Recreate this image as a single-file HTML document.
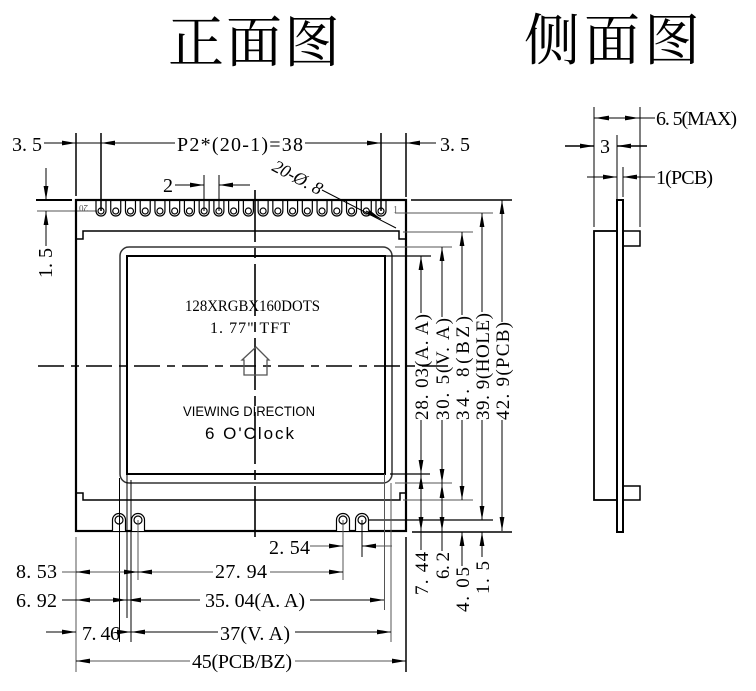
<!DOCTYPE html>
<html><head><meta charset="utf-8"><style>
html,body{margin:0;padding:0;background:#fff;}
svg{display:block;}
text{font-family:"Liberation Serif",serif;fill:#000;}
.s{font-family:"Liberation Sans",sans-serif;}
</style></head><body>
<svg width="756" height="691" viewBox="0 0 756 691" xmlns="http://www.w3.org/2000/svg">
<defs>
<marker id="a" markerUnits="userSpaceOnUse" markerWidth="15" markerHeight="6" refX="14" refY="3" orient="auto" viewBox="0 0 15 6"><path d="M0,0.6 L14,3 L0,5.4 z" fill="#000"/></marker>
</defs>

<!-- Titles -->
<text x="168" y="62" font-size="56" letter-spacing="2" style="font-family:'Noto Serif CJK SC','Liberation Serif',serif">正面图</text>
<text x="524" y="60" font-size="56" letter-spacing="4" style="font-family:'Noto Serif CJK SC','Liberation Serif',serif">侧面图</text>

<g fill="none" stroke="#000" stroke-width="1">
<!-- top dims -->
<line x1="44" y1="143" x2="175" y2="143"/>
<line x1="305" y1="143" x2="436" y2="143"/>
<path d="M60,143 L76,143" marker-end="url(#a)"/>
<path d="M115,143 L101,143" marker-end="url(#a)"/>
<path d="M367,143 L381,143" marker-end="url(#a)"/>
<path d="M420,143 L406,143" marker-end="url(#a)"/>
<line x1="76" y1="133" x2="76" y2="196" stroke-width="1.5"/>
<line x1="101" y1="133" x2="101" y2="211" stroke-width="1.5"/>
<line x1="381" y1="133" x2="381" y2="211" stroke-width="1.5"/>
<line x1="406" y1="133" x2="406" y2="197" stroke-width="1.5"/>
<!-- 2 pitch -->
<line x1="175" y1="185" x2="204" y2="185"/>
<line x1="219" y1="185" x2="250" y2="185"/>
<path d="M190,185 L204,185" marker-end="url(#a)"/>
<path d="M233,185 L219,185" marker-end="url(#a)"/>
<line x1="204" y1="175" x2="204" y2="211"/>
<line x1="219" y1="175" x2="219" y2="211"/>
<!-- left 1.5 -->
<line x1="36" y1="200" x2="72" y2="200" stroke-width="2"/>
<line x1="37" y1="211" x2="97" y2="211" stroke="#555"/>
<line x1="46" y1="168" x2="46" y2="200"/>
<path d="M46,186 L46,200" marker-end="url(#a)"/>
<line x1="46" y1="211" x2="46" y2="246"/>
<path d="M46,225 L46,211" marker-end="url(#a)"/>

<!-- PCB outline -->
<rect x="76" y="200" width="330" height="331" stroke-width="2.2"/>
<!-- bezel lines -->
<polyline points="76,239 83,239 83,231 399,231 399,239 406,239" stroke-width="1.5"/>
<polyline points="76,493 83,493 83,500 400,500 400,493 406,493" stroke-width="1.5"/>
<!-- VA rounded rect -->
<rect x="120" y="247" width="272" height="236" rx="9" ry="9" stroke="#333" stroke-width="1.5"/>
<!-- AA rect -->
<rect x="127" y="256" width="258" height="218" stroke-width="2"/>
</g>

<!-- pins -->
<g fill="none" stroke="#000" stroke-width="1.2">
<path d="M96,200 V211 A5,5 0 0 0 106,211 V200"/><circle cx="101" cy="211" r="3"/>
<path d="M110.74,200 V211 A5,5 0 0 0 120.74,211 V200"/><circle cx="115.74" cy="211" r="3"/>
<path d="M125.47,200 V211 A5,5 0 0 0 135.47,211 V200"/><circle cx="130.47" cy="211" r="3"/>
<path d="M140.21,200 V211 A5,5 0 0 0 150.21,211 V200"/><circle cx="145.21" cy="211" r="3"/>
<path d="M154.95,200 V211 A5,5 0 0 0 164.95,211 V200"/><circle cx="159.95" cy="211" r="3"/>
<path d="M169.68,200 V211 A5,5 0 0 0 179.68,211 V200"/><circle cx="174.68" cy="211" r="3"/>
<path d="M184.42,200 V211 A5,5 0 0 0 194.42,211 V200"/><circle cx="189.42" cy="211" r="3"/>
<path d="M199.16,200 V211 A5,5 0 0 0 209.16,211 V200"/><circle cx="204.16" cy="211" r="3"/>
<path d="M213.89,200 V211 A5,5 0 0 0 223.89,211 V200"/><circle cx="218.89" cy="211" r="3"/>
<path d="M228.63,200 V211 A5,5 0 0 0 238.63,211 V200"/><circle cx="233.63" cy="211" r="3"/>
<path d="M243.37,200 V211 A5,5 0 0 0 253.37,211 V200"/><circle cx="248.37" cy="211" r="3"/>
<path d="M258.11,200 V211 A5,5 0 0 0 268.11,211 V200"/><circle cx="263.11" cy="211" r="3"/>
<path d="M272.84,200 V211 A5,5 0 0 0 282.84,211 V200"/><circle cx="277.84" cy="211" r="3"/>
<path d="M287.58,200 V211 A5,5 0 0 0 297.58,211 V200"/><circle cx="292.58" cy="211" r="3"/>
<path d="M302.32,200 V211 A5,5 0 0 0 312.32,211 V200"/><circle cx="307.32" cy="211" r="3"/>
<path d="M317.05,200 V211 A5,5 0 0 0 327.05,211 V200"/><circle cx="322.05" cy="211" r="3"/>
<path d="M331.79,200 V211 A5,5 0 0 0 341.79,211 V200"/><circle cx="336.79" cy="211" r="3"/>
<path d="M346.53,200 V211 A5,5 0 0 0 356.53,211 V200"/><circle cx="351.53" cy="211" r="3"/>
<path d="M361.26,200 V211 A5,5 0 0 0 371.26,211 V200"/><circle cx="366.26" cy="211" r="3"/>
<path d="M376,200 V211 A5,5 0 0 0 386,211 V200"/><circle cx="381" cy="211" r="3"/>
</g>
<text transform="translate(88,205) rotate(180)" font-size="9" style="fill:#555">20</text>
<text x="393" y="213" font-size="10" style="fill:#666">1</text>

<!-- bottom holes -->
<g fill="#fff" stroke="#000" stroke-width="1.2">
<path d="M112.5,531 V520 A6.5,6.5 0 0 1 125.5,520 V531"/><circle cx="119" cy="520" r="4"/>
<path d="M131.5,531 V520 A6.5,6.5 0 0 1 144.5,520 V531"/><circle cx="138" cy="520" r="4"/>
<path d="M336.5,531 V520 A6.5,6.5 0 0 1 349.5,520 V531"/><circle cx="343" cy="520" r="4"/>
<path d="M355.5,531 V520 A6.5,6.5 0 0 1 368.5,520 V531"/><circle cx="362" cy="520" r="4"/>
</g>

<!-- center lines -->
<line x1="255" y1="190" x2="255" y2="537" stroke="#000" stroke-width="1.6" stroke-dasharray="52 6 10 6"/>
<line x1="38" y1="366" x2="452" y2="366" stroke="#000" stroke-width="1.6" stroke-dasharray="26 7 8 7"/>

<!-- house arrow -->
<polygon points="256,347 269,360 267,360 267,375 244,375 244,360 242,360" fill="none" stroke="#555" stroke-width="1.3"/>

<!-- leader 20-Ø.8 -->
<line x1="322" y1="190" x2="396" y2="228" stroke="#000" stroke-width="1"/>
<path d="M366,211 L381,219" marker-end="url(#a)" stroke="#000"/>
<text transform="translate(271,170) rotate(28)" font-size="18" font-style="italic" textLength="54" lengthAdjust="spacing">20-Ø. 8</text>

<!-- center texts -->
<text x="185" y="311" font-size="16" textLength="135" lengthAdjust="spacingAndGlyphs">128XRGBX160DOTS</text>
<text x="210" y="333" font-size="16" textLength="80" lengthAdjust="spacing">1. 77" TFT</text>
<text class="s" x="183" y="416" font-size="14" textLength="132" lengthAdjust="spacingAndGlyphs">VIEWING DIRECTION</text>
<text class="s" x="205" y="439" font-size="17" textLength="89" lengthAdjust="spacing">6 O'Clock</text>

<!-- top texts -->
<text x="12" y="151" font-size="20" textLength="30" lengthAdjust="spacing">3. 5</text>
<text x="177" y="151" font-size="20" textLength="126" lengthAdjust="spacing">P2*(20-1)=38</text>
<text x="440" y="151" font-size="20" textLength="30" lengthAdjust="spacing">3. 5</text>
<text x="163" y="192" font-size="20">2</text>
<text transform="translate(52,278) rotate(-90)" font-size="20" textLength="30" lengthAdjust="spacing">1. 5</text>

<!-- right extension lines -->
<g stroke="#000" stroke-width="1" fill="none">
<line x1="411" y1="200" x2="512" y2="200" stroke-width="1.5"/>
<line x1="395" y1="213" x2="493" y2="213" stroke="#555"/>
<line x1="403" y1="232" x2="473" y2="232" stroke="#555"/>
<line x1="395" y1="247" x2="452" y2="247" stroke="#555"/>
<line x1="385" y1="256" x2="431" y2="256" stroke-width="1.3"/>
<line x1="390" y1="474" x2="430" y2="474" stroke-width="1.3"/>
<line x1="395" y1="483" x2="452" y2="483" stroke="#555"/>
<line x1="403" y1="500" x2="473" y2="500" stroke="#555"/>
<line x1="368" y1="520" x2="493" y2="520" stroke-width="1.3"/>
<line x1="412" y1="532" x2="512" y2="532" stroke-width="1.5"/>
<!-- verticals -->
<line x1="421" y1="256" x2="421" y2="313"/><line x1="421" y1="420" x2="421" y2="550"/>
<line x1="442" y1="247" x2="442" y2="317"/><line x1="442" y1="420" x2="442" y2="551"/>
<line x1="462" y1="232" x2="462" y2="315"/><line x1="462" y1="420" x2="462" y2="500"/><line x1="462" y1="532" x2="462" y2="566"/>
<line x1="482" y1="213" x2="482" y2="312"/><line x1="482" y1="420" x2="482" y2="520"/><line x1="482" y1="532" x2="482" y2="557"/>
<line x1="502" y1="200" x2="502" y2="322"/><line x1="502" y1="420" x2="502" y2="531"/>
<!-- arrows -->
<path d="M421,270 L421,256" marker-end="url(#a)"/>
<path d="M421,460 L421,474" marker-end="url(#a)"/>
<path d="M421,489 L421,475" marker-end="url(#a)"/>
<path d="M421,517 L421,531" marker-end="url(#a)"/>
<path d="M442,261 L442,247" marker-end="url(#a)"/>
<path d="M442,469 L442,483" marker-end="url(#a)"/>
<path d="M442,498 L442,484" marker-end="url(#a)"/>
<path d="M442,517 L442,531" marker-end="url(#a)"/>
<path d="M462,246 L462,232" marker-end="url(#a)"/>
<path d="M462,486 L462,500" marker-end="url(#a)"/>
<path d="M462,546 L462,532" marker-end="url(#a)"/>
<path d="M482,227 L482,213" marker-end="url(#a)"/>
<path d="M482,506 L482,520" marker-end="url(#a)"/>
<path d="M482,546 L482,532" marker-end="url(#a)"/>
<path d="M502,214 L502,200" marker-end="url(#a)"/>
<path d="M502,517 L502,531" marker-end="url(#a)"/>
</g>
<text transform="translate(428,420) rotate(-90)" font-size="19" textLength="106" lengthAdjust="spacing">28. 03(A. A)</text>
<text transform="translate(449,420) rotate(-90)" font-size="19" textLength="102" lengthAdjust="spacing">30. 5(V. A)</text>
<text transform="translate(469,420) rotate(-90)" font-size="19" textLength="104" lengthAdjust="spacing">34. 8(BZ)</text>
<text transform="translate(489,420) rotate(-90)" font-size="19" textLength="107" lengthAdjust="spacing">39. 9(HOLE)</text>
<text transform="translate(509,420) rotate(-90)" font-size="19" textLength="98" lengthAdjust="spacing">42. 9(PCB)</text>
<text transform="translate(428,595) rotate(-90)" font-size="19" textLength="43" lengthAdjust="spacing">7. 44</text>
<text transform="translate(449,579) rotate(-90)" font-size="19" textLength="27" lengthAdjust="spacing">6. 2</text>
<text transform="translate(469,612) rotate(-90)" font-size="19" textLength="45" lengthAdjust="spacing">4. 05</text>
<text transform="translate(489,594) rotate(-90)" font-size="19" textLength="33" lengthAdjust="spacing">1. 5</text>

<!-- bottom extension lines -->
<g stroke="#000" stroke-width="1" fill="none">
<line x1="119.5" y1="478" x2="119.5" y2="642"/>
<line x1="127" y1="474" x2="127" y2="618"/>
<line x1="131" y1="480" x2="131" y2="642"/>
<line x1="138" y1="520" x2="138" y2="580" stroke="#555"/>
<line x1="343" y1="520" x2="343" y2="580" stroke="#555"/>
<line x1="362" y1="520" x2="362" y2="557"/>
<line x1="384.5" y1="474" x2="384.5" y2="610" stroke="#555"/>
<line x1="391" y1="483" x2="391" y2="642" stroke="#555"/>
<line x1="76" y1="537" x2="76" y2="672" stroke="#555"/>
<line x1="406" y1="537" x2="406" y2="672" stroke-width="1.5"/>
<!-- row 546 -->
<line x1="310" y1="546" x2="343" y2="546" stroke="#555"/>
<line x1="362" y1="546" x2="392" y2="546" stroke="#555"/>
<path d="M329,546 L343,546" marker-end="url(#a)"/>
<path d="M376,546 L362,546" marker-end="url(#a)"/>
<!-- row 572 -->
<line x1="62" y1="572" x2="213" y2="572" stroke="#555"/>
<line x1="270" y1="572" x2="343" y2="572" stroke="#555"/>
<path d="M90,572 L76,572" marker-end="url(#a)"/>
<path d="M124,572 L138,572" marker-end="url(#a)"/>
<path d="M152,572 L138,572" marker-end="url(#a)"/>
<path d="M329,572 L343,572" marker-end="url(#a)"/>
<!-- row 600 -->
<line x1="62" y1="600" x2="200" y2="600"/>
<line x1="310" y1="600" x2="384" y2="600"/>
<path d="M90,600 L76,600" marker-end="url(#a)"/>
<path d="M113,600 L127,600" marker-end="url(#a)"/>
<path d="M141,600 L127,600" marker-end="url(#a)"/>
<path d="M370,600 L384,600" marker-end="url(#a)"/>
<!-- row 632 -->
<line x1="46" y1="632" x2="76" y2="632"/>
<line x1="117" y1="632" x2="218" y2="632"/>
<line x1="295" y1="632" x2="391" y2="632"/>
<path d="M62,632 L76,632" marker-end="url(#a)"/>
<path d="M117,632 L131,632" marker-end="url(#a)"/>
<path d="M145,632 L131,632" marker-end="url(#a)"/>
<path d="M377,632 L391,632" marker-end="url(#a)"/>
<!-- row 661 -->
<line x1="76" y1="661" x2="190" y2="661" stroke="#555"/>
<line x1="295" y1="661" x2="406" y2="661" stroke="#555"/>
<path d="M90,661 L76,661" marker-end="url(#a)"/>
<path d="M392,661 L406,661" marker-end="url(#a)"/>
</g>
<text x="269" y="554" font-size="20" textLength="41" lengthAdjust="spacing">2. 54</text>
<text x="16" y="578" font-size="20" textLength="41" lengthAdjust="spacing">8. 53</text>
<text x="215" y="578" font-size="20" textLength="52" lengthAdjust="spacing">27. 94</text>
<text x="16" y="607" font-size="20" textLength="41" lengthAdjust="spacing">6. 92</text>
<text x="205" y="607" font-size="20" textLength="100" lengthAdjust="spacing">35. 04(A. A)</text>
<text x="82" y="640" font-size="20" textLength="38" lengthAdjust="spacing">7. 46</text>
<text x="220" y="640" font-size="20" textLength="70" lengthAdjust="spacing">37(V. A)</text>
<text x="192" y="668" font-size="20" textLength="100" lengthAdjust="spacing">45(PCB/BZ)</text>

<!-- side view -->
<g stroke="#000" stroke-width="1" fill="none">
<line x1="594" y1="107" x2="594" y2="227"/>
<line x1="640" y1="107" x2="640" y2="227"/>
<line x1="594" y1="118" x2="655" y2="118"/>
<path d="M609,118 L595,118" marker-end="url(#a)"/>
<path d="M625,118 L639,118" marker-end="url(#a)"/>
<line x1="565" y1="146" x2="594" y2="146" stroke-width="1.5"/>
<path d="M580,146 L594,146" marker-end="url(#a)"/>
<line x1="617" y1="146" x2="647" y2="146" stroke-width="1.5"/>
<path d="M631,146 L617,146" marker-end="url(#a)"/>
<line x1="617" y1="135" x2="617" y2="200"/>
<line x1="623" y1="167" x2="623" y2="197"/>
<line x1="587" y1="177" x2="617" y2="177"/>
<path d="M603,177 L617,177" marker-end="url(#a)"/>
<line x1="623" y1="177" x2="655" y2="177"/>
<path d="M637,177 L623,177" marker-end="url(#a)"/>
<rect x="594" y="231" width="23" height="269" stroke-width="1.8"/>
<rect x="623" y="231" width="17" height="15" stroke-width="1.5"/>
<rect x="623" y="486" width="17" height="14" stroke-width="1.5"/>
<rect x="617" y="200" width="6" height="332" stroke-width="2"/>
</g>
<text x="656" y="125" font-size="20" textLength="81" lengthAdjust="spacing">6. 5(MAX)</text>
<text x="600" y="153" font-size="20">3</text>
<text x="656" y="184" font-size="20" textLength="57" lengthAdjust="spacing">1(PCB)</text>
</svg>
</body></html>
